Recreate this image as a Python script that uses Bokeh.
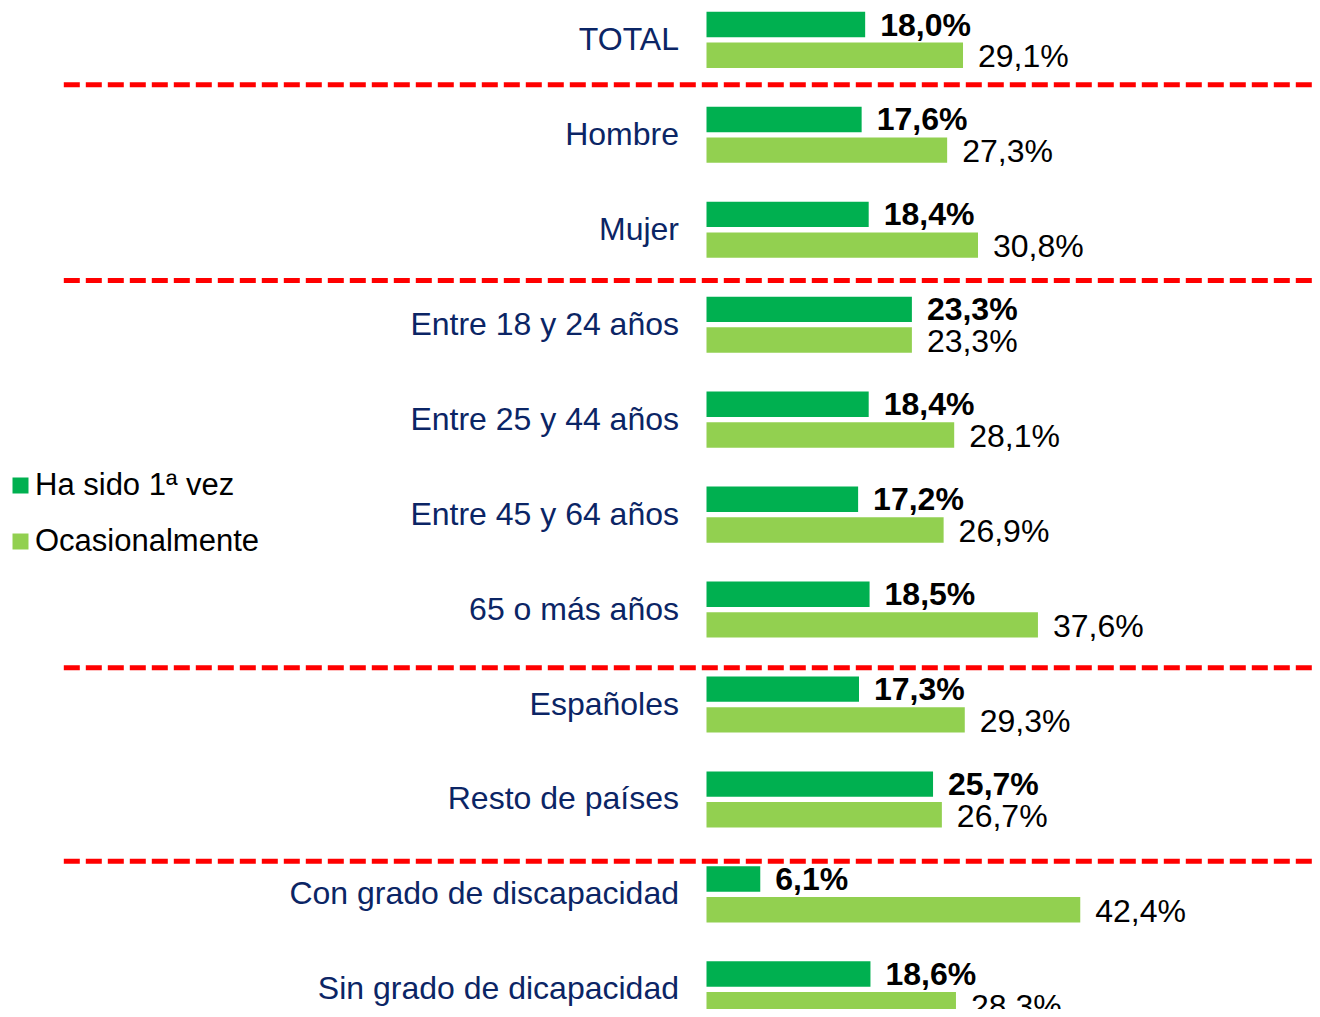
from bokeh.plotting import figure
from bokeh.models import Range1d, ColumnDataSource, Legend, LegendItem
from bokeh.embed import file_html
from bokeh.resources import INLINE
from bokeh.core.properties import value

# ---- data ----
categories = ["TOTAL", "Hombre", "Mujer", "Entre 18 y 24 años", "Entre 25 y 44 años",
              "Entre 45 y 64 años", "65 o más años", "Españoles", "Resto de países",
              "Con grado de discapacidad", "Sin grado de dicapacidad"]
primera_vez = [18.0, 17.6, 18.4, 23.3, 18.4, 17.2, 18.5, 17.3, 25.7, 6.1, 18.6]
ocasional = [29.1, 27.3, 30.8, 23.3, 28.1, 26.9, 37.6, 29.3, 26.7, 42.4, 28.3]
series_names = ["Ha sido 1ª vez", "Ocasionalmente"]
# separators between groups (in category-index units)
separators = [0.473, 2.535, 6.612, 8.651]

DARK = "#00B050"
LIGHT = "#92D050"
NAVY = "#0B2565"
FONT = "Liberation Sans"

W, H = 1312, 1009    # fits the 1320x1017 window with its 8px margin
PXU = 8.815          # px per percent
X0 = 706             # px of zero
UNIT = 94.95         # px per category
Y0 = 39.35           # px of first category center

x_start = -X0 / PXU
x_end = (W - X0) / PXU
y_top = -Y0 / UNIT
y_bot = (H - Y0) / UNIT

p = figure(width=W, height=H, output_backend="svg", toolbar_location=None,
           x_range=Range1d(x_start, x_end), y_range=Range1d(y_bot, y_top),
           min_border=0, outline_line_color=None)
p.axis.visible = False
p.grid.visible = False
p.background_fill_color = "white"
p.border_fill_color = "white"

idx = list(range(len(categories)))
off = 15.35 / UNIT
bh = 25.4 / UNIT

src = ColumnDataSource(dict(
    idx=idx,
    y1=[i - off for i in idx],
    y2=[i + off for i in idx],
    v1=primera_vez,
    v2=ocasional,
    cat=categories,
    t1=[f"{v:.1f}%".replace(".", ",") for v in primera_vez],
    t2=[f"{v:.1f}%".replace(".", ",") for v in ocasional],
))

r1 = p.hbar(y="y1", left=0, right="v1", height=bh, source=src,
            fill_color=DARK, line_color=None)
r2 = p.hbar(y="y2", left=0, right="v2", height=bh, source=src,
            fill_color=LIGHT, line_color=None)

p.text(x="v1", y="y1", text="t1", source=src, x_offset=15, y_offset=0,
       text_font=value(FONT), text_font_size="32px", text_font_style="bold",
       text_baseline="middle", text_align="left", text_color="black")
p.text(x="v2", y="y2", text="t2", source=src, x_offset=15, y_offset=1,
       text_font=value(FONT), text_font_size="32px",
       text_baseline="middle", text_align="left", text_color="black")

p.text(x=0, y="idx", text="cat", source=src, x_offset=-27.5, y_offset=-1,
       text_font=value(FONT), text_font_size="32px",
       text_baseline="middle", text_align="right", text_color=NAVY)

sep_x0 = (63.3 - X0) / PXU
p.segment(x0=[sep_x0] * len(separators), x1=[x_end + 5] * len(separators),
          y0=separators, y1=separators, line_color="#FF0000", line_width=5,
          line_dash="16 6")

legend = Legend(items=[LegendItem(label=series_names[0], renderers=[r1]),
                       LegendItem(label=series_names[1], renderers=[r2])],
                location=(10, 450), padding=0, margin=0, spacing=20,
                glyph_width=20, glyph_height=20, label_standoff=5,
                label_text_font=FONT, label_text_font_size="31px",
                label_text_color="black", border_line_color=None,
                background_fill_alpha=0)
p.add_layout(legend)

open("out.html", "w").write(file_html(p, INLINE))
